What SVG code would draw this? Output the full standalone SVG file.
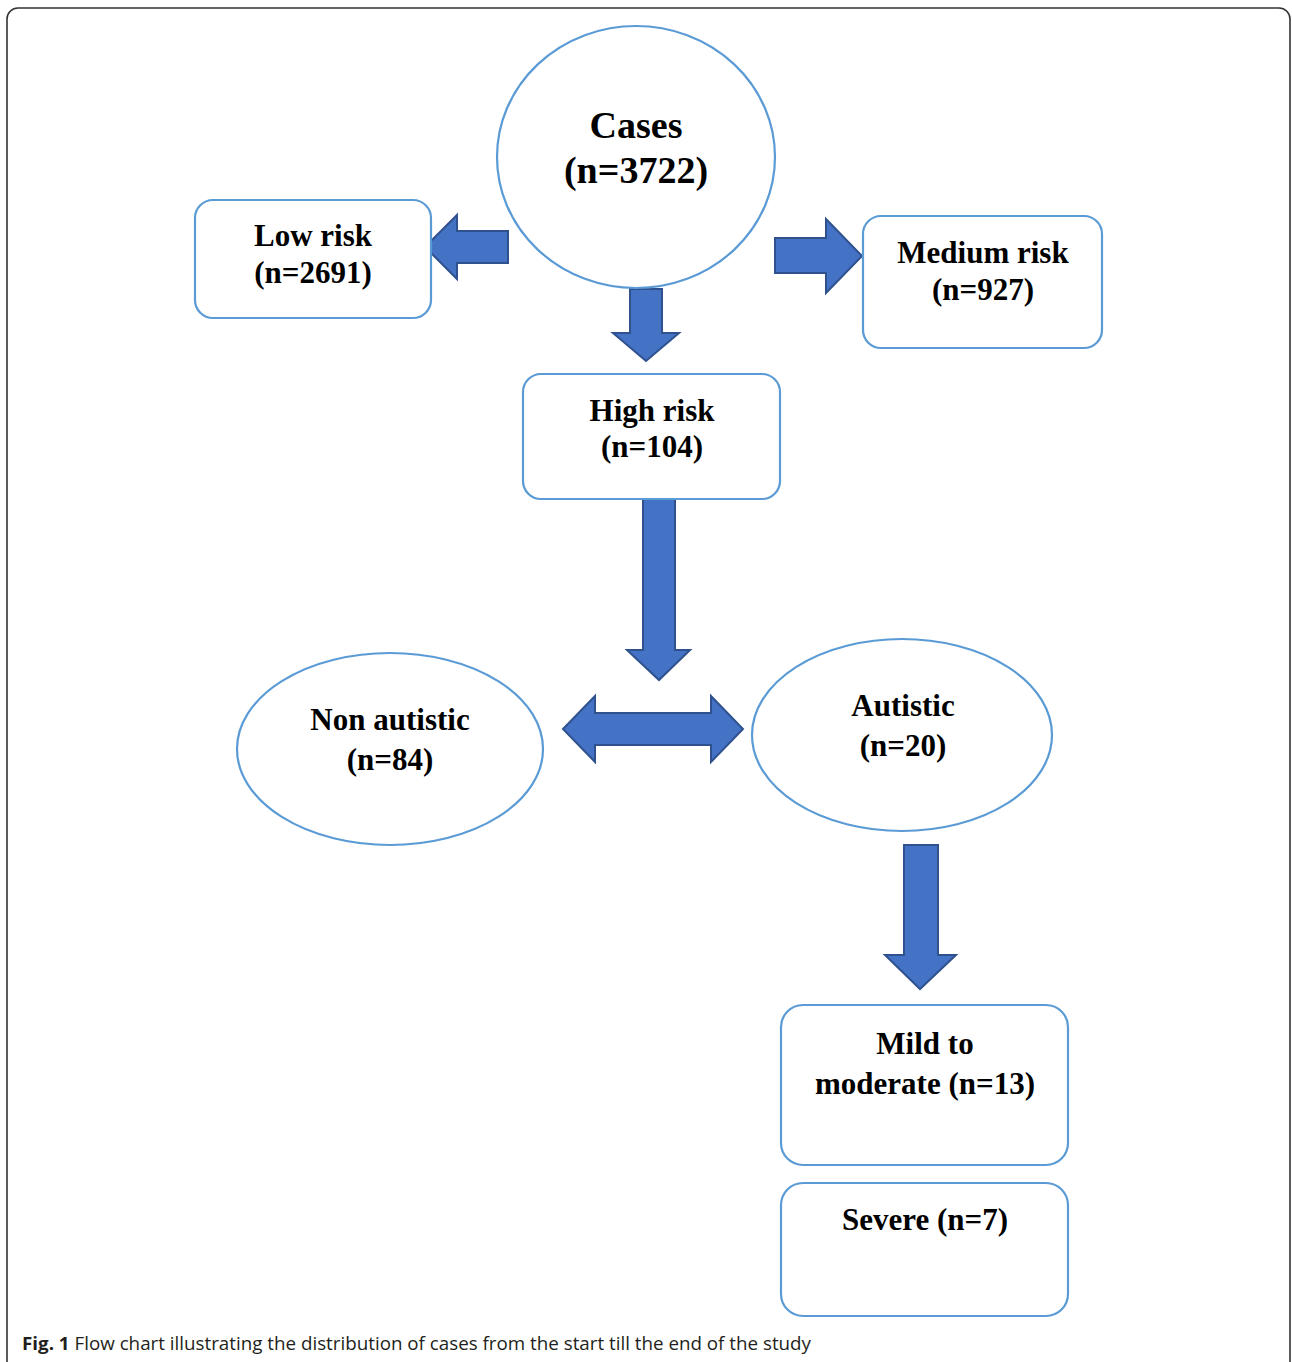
<svg xmlns="http://www.w3.org/2000/svg" width="1292" height="1362" viewBox="0 0 1292 1362">
<style>
.box{fill:#fff;stroke:#5B9BD5;stroke-width:2.2}
.arr{fill:#4472C4;stroke:#2F528F;stroke-width:2;stroke-linejoin:miter}
.t{font-family:"Liberation Serif","Times New Roman",serif;font-weight:bold;font-size:31px;fill:#000;text-anchor:middle}
.big{font-size:38px}
.cap{font-family:"Open Sans","Noto Sans",sans-serif;font-size:18px;fill:#231f20}
</style>
<rect width="1292" height="1362" fill="#fff"/>
<path d="M7,1362 V19 A11,11 0 0 1 18,8 H1279 A11,11 0 0 1 1290,19 V1362" fill="none" stroke="#333" stroke-width="1.6"/>
<g id="connectors">
<path class="arr" d="M508,231 H457 V215 L425,247 L457,279 V263 H508 Z"/>
<path class="arr" d="M775,238 H826 V219 L862,256 L826,293 V273 H775 Z"/>
<path class="arr" d="M630,289 H662 V333 H679 L646,361 L613,333 H630 Z"/>
<path class="arr" d="M643,499 H675 V650 H690 L659,680 L627,650 H643 Z"/>
<path class="arr" d="M563,729 L595,696 V713 H711 V696 L743,729 L711,762 V745 H595 V762 Z"/>
<path class="arr" d="M904,845 H938 V955 H956 L920,989 L885,955 H904 Z"/>
</g>
<g id="cases">
<ellipse class="box" cx="636" cy="157" rx="139" ry="131"/>
<text class="t big" x="636" y="138">Cases</text>
<text class="t big" x="636" y="183">(n=3722)</text>
</g>
<g id="low-risk">
<rect class="box" x="195" y="200" width="236" height="118" rx="18"/>
<text class="t" x="313" y="246">Low risk</text>
<text class="t" x="313" y="283">(n=2691)</text>
</g>
<g id="medium-risk">
<rect class="box" x="863" y="216" width="239" height="132" rx="18"/>
<text class="t" x="983" y="263">Medium risk</text>
<text class="t" x="983" y="300">(n=927)</text>
</g>
<g id="high-risk">
<rect class="box" x="523" y="374" width="257" height="125" rx="18"/>
<text class="t" x="652" y="421">High risk</text>
<text class="t" x="652" y="457">(n=104)</text>
</g>
<g id="non-autistic">
<ellipse class="box" cx="390" cy="749" rx="153" ry="96"/>
<text class="t" x="390" y="730">Non autistic</text>
<text class="t" x="390" y="770">(n=84)</text>
</g>
<g id="autistic">
<ellipse class="box" cx="902" cy="735" rx="150" ry="96"/>
<text class="t" x="903" y="716">Autistic</text>
<text class="t" x="903" y="756">(n=20)</text>
</g>
<g id="mild-moderate">
<rect class="box" x="781" y="1005" width="287" height="160" rx="22"/>
<text class="t" x="925" y="1054">Mild to</text>
<text class="t" x="925" y="1094">moderate (n=13)</text>
</g>
<g id="severe">
<rect class="box" x="781" y="1183" width="287" height="133" rx="22"/>
<text class="t" x="925" y="1230">Severe (n=7)</text>
</g>
<text class="cap" x="22" y="1350" textLength="789" lengthAdjust="spacingAndGlyphs"><tspan font-weight="bold">Fig. 1</tspan> Flow chart illustrating the distribution of cases from the start till the end of the study</text>
</svg>
